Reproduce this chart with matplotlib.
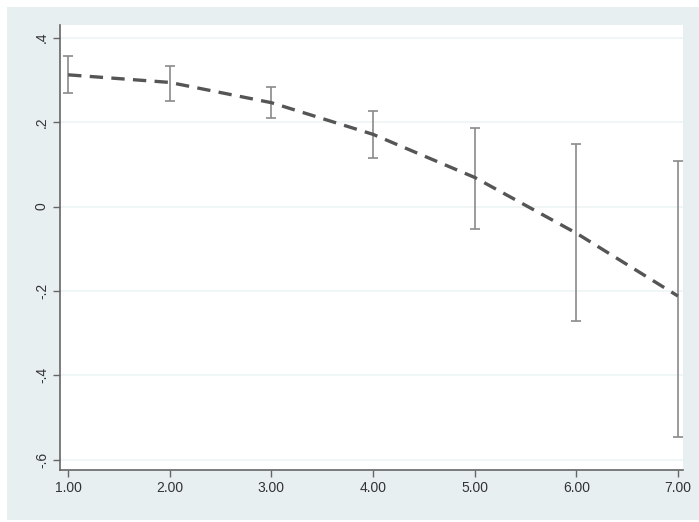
import matplotlib.pyplot as plt
from matplotlib.patches import Rectangle

# values
x = [1, 2, 3, 4, 5, 6, 7]
est = [0.312, 0.294, 0.246, 0.171, 0.069, -0.063, -0.212]
upper = [0.357, 0.334, 0.282, 0.227, 0.185, 0.147, 0.109]
lower = [0.270, 0.251, 0.209, 0.114, -0.052, -0.271, -0.546]

xticks = [1, 2, 3, 4, 5, 6, 7]
xlabels = ['1.00', '2.00', '3.00', '4.00', '5.00', '6.00', '7.00']
yticks = [-0.6, -0.4, -0.2, 0, 0.2, 0.4]
ylabels = ['-.6', '-.4', '-.2', '0', '.2', '.4']

plt.rcParams['font.family'] = ['Liberation Sans', 'DejaVu Sans']

fig = plt.figure(figsize=(6.99, 5.22), dpi=100)
fig.patch.set_facecolor('white')
fig.add_artist(Rectangle((7 / 699, 2 / 522), 1 - 7 / 699, 1 - 9 / 522,
                         transform=fig.transFigure, facecolor='#e8eff1',
                         edgecolor='none', zorder=-10))

ax = fig.add_axes([60 / 699, 1 - 470 / 522, 623 / 699, 445 / 522])
ax.set_facecolor('white')

ax.set_xlim(0.92, 7.05)
ax.set_ylim(-0.624, 0.43)

for yt in yticks:
    ax.axhline(yt, color='#edf3f4', lw=1.2, zorder=1)

# confidence intervals
err_lo = [e - l for e, l in zip(est, lower)]
err_hi = [u - e for e, u in zip(est, upper)]
ax.errorbar(x, est, yerr=[err_lo, err_hi], fmt='none', ecolor='#8a8a8a',
            elinewidth=1.2, capsize=3.5, capthick=1.2, zorder=2)

ax.plot(x, est, color='#555555', lw=2.4, ls=(0, (4, 2.5)), zorder=3)

ax.set_xticks(xticks)
ax.set_xticklabels(xlabels)
ax.set_yticks(yticks)
ax.set_yticklabels(ylabels, rotation=90, va='center')

for s in ['top', 'right']:
    ax.spines[s].set_visible(False)
for s in ['left', 'bottom']:
    ax.spines[s].set_color('#666666')
    ax.spines[s].set_linewidth(1.2)

ax.tick_params(axis='both', direction='out', length=5, width=1,
               color='#666666', labelsize=10, labelcolor='#333333', pad=3)

fig.savefig('out.png', dpi=100, facecolor=fig.get_facecolor())
